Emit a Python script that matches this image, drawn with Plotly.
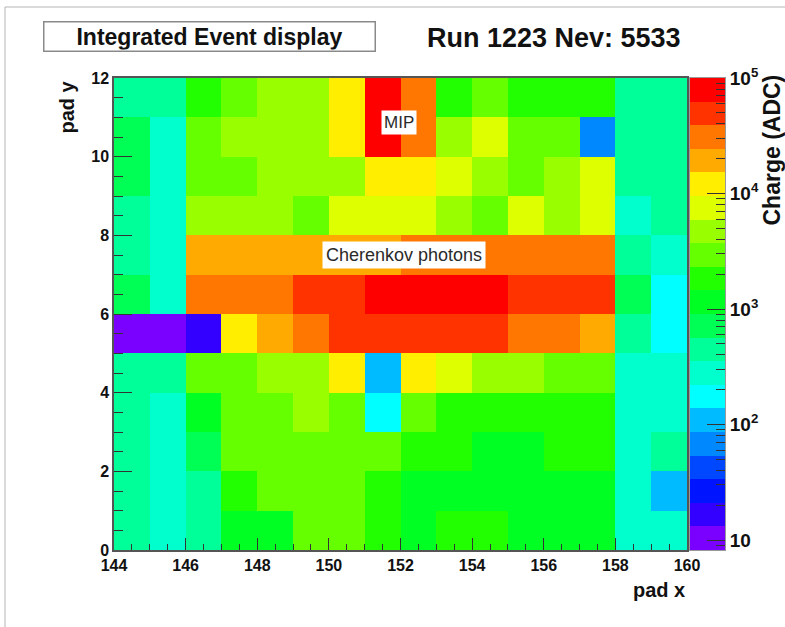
import numpy as np
import plotly.graph_objects as go

# ---------------- data (charge in ADC per pad) ----------------
pad_x = list(range(144, 160))   # lower edges of pad columns
pad_y = list(range(12))         # lower edges of pad rows

row_0 = [460, 290, 470, 1150, 1120, 2900, 2800, 1850, 1200, 1800, 1900, 1100, 1150, 1180, 300, 280]
row_1 = [450, 280, 430, 1900, 2900, 3000, 2850, 1800, 1150, 1100, 1200, 1150, 1100, 1180, 290, 110]
row_2 = [460, 290, 720, 2900, 2950, 3000, 2800, 2900, 1850, 1900, 1150, 1200, 1800, 1850, 300, 450]
row_3 = [470, 280, 1150, 2900, 3000, 4700, 2900, 180, 2900, 1850, 1800, 1900, 1850, 1800, 300, 290]
row_4 = [450, 460, 2900, 2950, 4700, 4600, 12000, 110, 12500, 7500, 4800, 4700, 3000, 2900, 290, 280]
row_5 = [8.2, 9.5, 17, 12000, 19000, 31000, 50000, 52000, 48000, 50000, 49000, 30000, 31000, 19500, 460, 180]
row_6 = [720, 290, 31000, 30000, 32000, 50000, 49000, 80000, 85000, 82000, 78000, 50000, 48000, 51000, 700, 180]
row_7 = [460, 290, 19000, 19500, 18500, 19000, 19000, 20000, 31000, 30000, 31000, 32000, 31000, 30500, 450, 290]
row_8 = [450, 290, 4700, 4800, 4600, 2900, 7500, 7600, 7400, 4700, 2900, 7500, 4700, 7600, 290, 460]
row_9 = [720, 290, 2900, 2950, 4700, 4800, 4600, 12000, 12500, 7500, 4700, 2900, 4800, 7500, 460, 450]
row_10 = [710, 280, 2900, 4700, 4800, 4700, 12000, 90000, 31000, 4600, 7500, 2900, 3000, 70, 460, 450]
row_11 = [460, 450, 1850, 2900, 4700, 4600, 12000, 95000, 31000, 1850, 2900, 1900, 1800, 1850, 460, 450]
charge_rows = [row_0, row_1, row_2, row_3, row_4, row_5,
               row_6, row_7, row_8, row_9, row_10, row_11]

x_ticks = [144, 146, 148, 150, 152, 154, 156, 158, 160]
y_ticks = [0, 2, 4, 6, 8, 10, 12]
z_tick_vals = [10, 100, 1000, 10000, 100000]
z_tick_text = ["10", "10<sup>2</sup>", "10<sup>3</sup>", "10<sup>4</sup>", "10<sup>5</sup>"]

# ---------------- style ----------------
band_colors = ["#7a00ff", "#3300ff", "#0014ff", "#0048ff", "#0088ff",
               "#00bbff", "#00ffff", "#00ffcc", "#00ff99", "#00ff55",
               "#00ff22", "#22ff00", "#66ff00", "#99ff00", "#ddff00",
               "#ffee00", "#ffaa00", "#ff7700", "#ff3300", "#ff0000"]
N_LEVELS = len(band_colors)
ZMIN, ZMAX = 8.2, 1.0e5
FONT = "Liberation Sans, Arial, Helvetica, sans-serif"
AX = "#333333"

W, H = 785, 627
L, R, T, B = 114, 60, 78, 77
PW, PH = W - L - R, H - T - B
MAIN_RIGHT, CB_LEFT = 687, 690


def px_x(px):
    return (px - L) / PW


def px_y(py):
    return (H - B - py) / PH


lo, hi = np.log10(ZMIN), np.log10(ZMAX)
colorscale = []
for i, c in enumerate(band_colors):
    colorscale += [[i / N_LEVELS, c], [(i + 1) / N_LEVELS, c]]

x_edges = pad_x + [pad_x[-1] + 1]
y_edges = pad_y + [pad_y[-1] + 1]
z_log = np.log10(np.array(charge_rows, dtype=float))

fig = go.Figure()
fig.add_trace(go.Heatmap(
    x=x_edges, y=y_edges, z=z_log, zmin=lo, zmax=hi,
    colorscale=colorscale, showscale=False, xaxis="x", yaxis="y",
    customdata=np.array(charge_rows),
    hovertemplate="pad x %{x}<br>pad y %{y}<br>%{customdata} ADC<extra></extra>"))

# palette (colour scale) drawn as its own small heatmap on a log-valued axis
level_edges = np.linspace(lo, hi, N_LEVELS + 1)
level_mid = (level_edges[:-1] + level_edges[1:]) / 2
fig.add_trace(go.Heatmap(
    x=[0, 1], y=level_edges, z=[[m] for m in level_mid], zmin=lo, zmax=hi,
    colorscale=colorscale, showscale=False, xaxis="x2", yaxis="y2", hoverinfo="skip"))

minor_z = [9] + [k * 10 ** d for d in range(1, 5) for k in range(2, 10)]

tickfont = dict(family=FONT, size=16, color="#111", weight="bold")
fig.update_layout(
    width=W, height=H, margin=dict(l=L, r=R, t=T, b=B, pad=0),
    paper_bgcolor="white", plot_bgcolor="white", showlegend=False,
    font=dict(family=FONT, color="#111"),
    xaxis=dict(domain=[0, px_x(MAIN_RIGHT)], range=[144, 160], anchor="y",
               tickmode="array", tickvals=x_ticks, ticks="inside", ticklen=12,
               tickcolor=AX, tickwidth=1.2, tickfont=tickfont,
               minor=dict(dtick=0.5, tick0=144, ticks="inside", ticklen=6,
                          tickcolor=AX, tickwidth=1.2),
               showline=True, linecolor="#555", linewidth=1.5, mirror=True,
               showgrid=False, zeroline=False, layer="above traces"),
    yaxis=dict(domain=[0, 1], range=[0, 12], anchor="x",
               tickmode="array", tickvals=y_ticks, ticks="inside", ticklen=18,
               tickcolor=AX, tickwidth=1.2, tickfont=tickfont,
               minor=dict(dtick=0.5, tick0=0, ticks="inside", ticklen=9,
                          tickcolor=AX, tickwidth=1.2),
               showline=True, linecolor="#555", linewidth=1.5, mirror=True,
               showgrid=False, zeroline=False, layer="above traces"),
    xaxis2=dict(domain=[px_x(CB_LEFT), 1], range=[0, 1], anchor="y2",
                showticklabels=False, ticks="", showgrid=False, zeroline=False,
                showline=True, linecolor="#999", linewidth=1, mirror=True),
    yaxis2=dict(domain=[0, 1], range=[lo, hi], anchor="x2", side="right",
                tickmode="array", tickvals=list(np.log10(z_tick_vals)), ticktext=z_tick_text,
                ticks="inside", ticklen=18, tickcolor=AX, tickwidth=1.2,
                tickfont=dict(family=FONT, size=19, color="#111", weight="bold"),
                minor=dict(tickmode="array", tickvals=list(np.log10(minor_z)),
                           ticks="inside", ticklen=9, tickcolor=AX, tickwidth=1.2),
                showline=True, linecolor="#999", linewidth=1, mirror=True,
                showgrid=False, zeroline=False, layer="above traces"),
)

annotations = [
    dict(text="Integrated Event display", xref="paper", yref="paper",
         x=px_x(209), y=px_y(37), xanchor="center", yanchor="middle", showarrow=False,
         font=dict(family=FONT, size=23, color="#111", weight="bold"),
         bordercolor="#8a8a8a", borderwidth=1.5, borderpad=1, width=328, height=26,
         bgcolor="white"),
    dict(text="Run 1223 Nev: 5533", xref="paper", yref="paper",
         x=px_x(425), y=px_y(38), xanchor="left", yanchor="middle", showarrow=False,
         font=dict(family=FONT, size=27, color="#111", weight="bold")),
    dict(text="pad y", xref="paper", yref="paper", textangle=-90,
         x=px_x(66), y=px_y(79), xanchor="center", yanchor="top", showarrow=False,
         font=dict(family=FONT, size=20, color="#111", weight="bold")),
    dict(text="pad x", xref="paper", yref="paper",
         x=px_x(687), y=px_y(590), xanchor="right", yanchor="middle", showarrow=False,
         font=dict(family=FONT, size=20, color="#111", weight="bold")),
    dict(text="Charge (ADC)", xref="paper", yref="paper", textangle=-90,
         x=px_x(772), y=px_y(73), xanchor="center", yanchor="top", showarrow=False,
         font=dict(family=FONT, size=23, color="#111", weight="bold")),
    dict(text="MIP", xref="x", yref="y", x=151.96, y=10.86, showarrow=False,
         xanchor="center", yanchor="middle", bgcolor="white", borderpad=2,
         font=dict(family=FONT, size=17, color="#2a2a2a")),
    dict(text="Cherenkov photons", xref="x", yref="y", x=152.1, y=7.5, showarrow=False,
         xanchor="center", yanchor="middle", bgcolor="white", borderpad=3,
         font=dict(family=FONT, size=18, color="#2a2a2a")),
]
fig.update_layout(annotations=annotations)

frame = dict(type="line", xref="paper", yref="paper", line=dict(color="#b5b5b5", width=1))
fig.update_layout(shapes=[
    dict(frame, x0=px_x(5), x1=px_x(W), y0=px_y(7), y1=px_y(7)),
    dict(frame, x0=px_x(5), x1=px_x(5), y0=px_y(7), y1=px_y(H)),
])

fig.write_html("out.html")
